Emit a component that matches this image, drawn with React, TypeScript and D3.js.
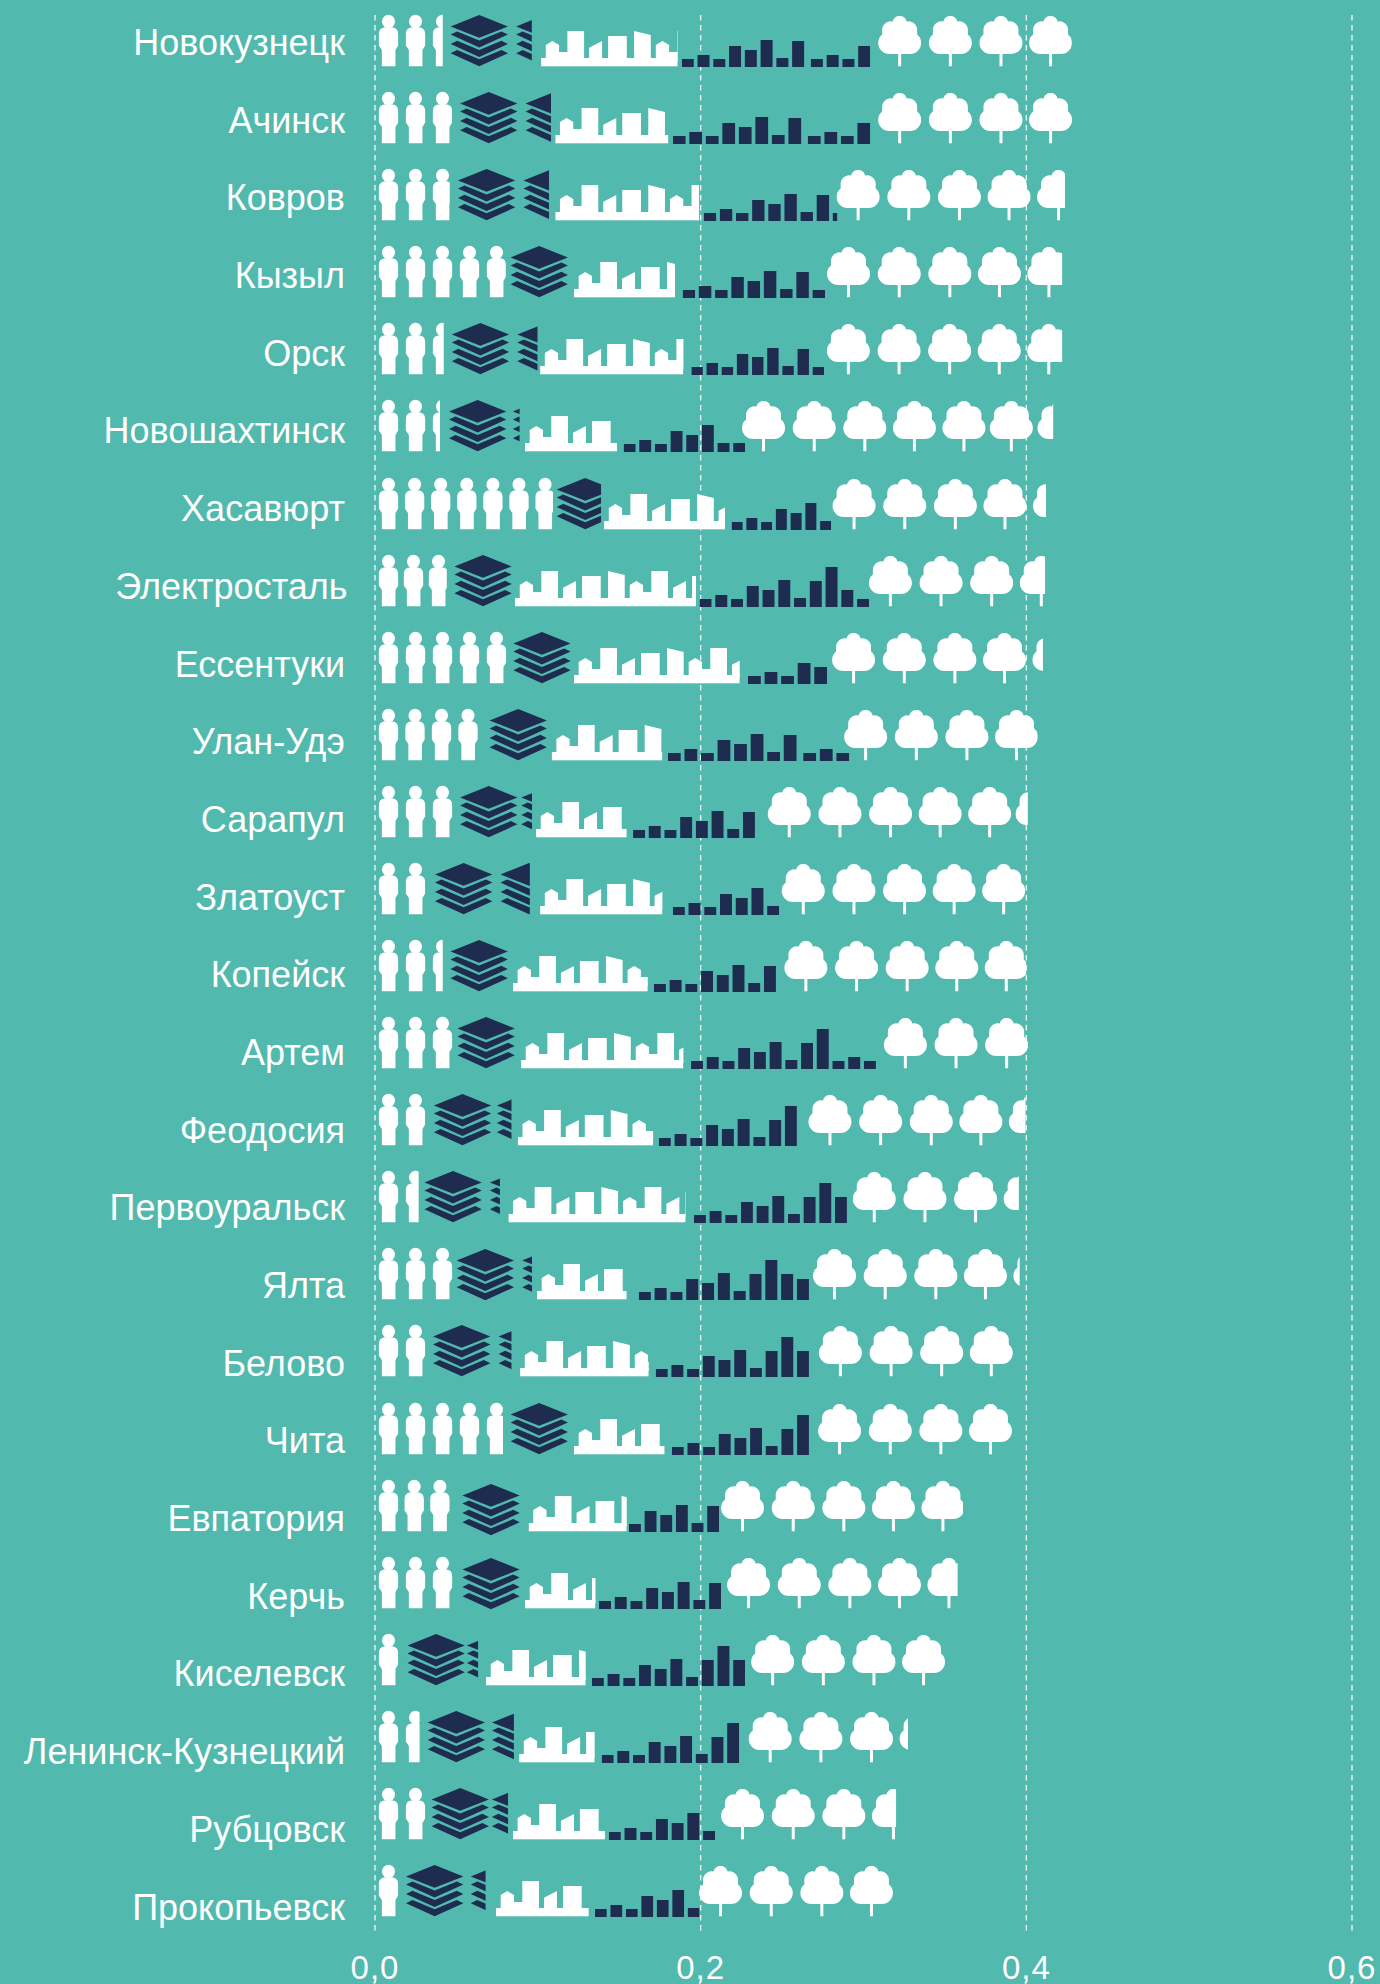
import React, { useEffect, useRef } from 'react';
import * as d3 from 'd3';

const cities = ['Новокузнецк', 'Ачинск', 'Ковров', 'Кызыл', 'Орск', 'Новошахтинск', 'Хасавюрт', 'Электросталь', 'Ессентуки', 'Улан-Удэ', 'Сарапул', 'Златоуст', 'Копейск', 'Артем', 'Феодосия', 'Первоуральск', 'Ялта', 'Белово', 'Чита', 'Евпатория', 'Керчь', 'Киселевск', 'Ленинск-Кузнецкий', 'Рубцовск', 'Прокопьевск'];
const ticks = [0, 0.2, 0.4, 0.6];

// Each band of a row in axis units
const peopleTo = [.0416, .0475, .0459, .0803, .0422, .0399, .1093, .0441, .0808, .0633, .0477, .0310, .0416, .0477, .0310, .0268, .0477, .0310, .0786, .0463, .0479, .0145, .0274, .0310, .0145];
const layersFrom = [.0440, .0498, .0485, .0808, .0447, .0430, .1091, .0463, .0825, .0679, .0498, .0344, .0439, .0482, .0337, .0279, .0477, .0332, .0808, .0512, .0512, .0175, .0299, .0323, .0166];
const layersTo = [.0963, .1081, .1069, .1184, .0998, .0888, .1388, .0844, .1203, .1055, .0964, .0951, .0817, .0860, .0838, .0767, .0964, .0838, .1186, .0891, .0891, .0633, .0853, .0817, .0679];
const skylineFrom = [.1020, .1107, .1107, .1222, .1014, .0921, .1407, .0860, .1222, .1085, .0989, .1014, .0847, .0897, .0877, .0819, .0995, .0891, .1222, .0943, .0921, .0682, .0885, .0847, .0743];
const skylineTo = [.1859, .1802, .1990, .1843, .1894, .1486, .2150, .1971, .2240, .1765, .1546, .1765, .1675, .1894, .1708, .1908, .1546, .1681, .1779, .1546, .1354, .1294, .1349, .1412, .1313];
const columnsFrom = [.1884, .1829, .2019, .1889, .1943, .1527, .2190, .1993, .2291, .1799, .1585, .1829, .1713, .1941, .1743, .1959, .1620, .1724, .1823, .1560, .1376, .1332, .1392, .1436, .1351];
const columnsTo = [.3041, .3041, .2838, .2764, .2758, .2273, .2801, .3034, .2776, .2912, .2333, .2482, .2462, .3076, .2591, .2898, .2665, .2665, .2665, .2113, .2125, .2273, .2236, .2088, .1993];
const treesFrom = [.3067, .3067, .2812, .2753, .2752, .2231, .2787, .3010, .2784, .2858, .2389, .2475, .2491, .3102, .2639, .2911, .2667, .2703, .2698, .2102, .2139, .2287, .2272, .2102, .1967];
const treesTo = [.4279, .4286, .4238, .4220, .4220, .4165, .4121, .4115, .4102, .4069, .4009, .3998, .3999, .4011, .3995, .3954, .3959, .3918, .3915, .3611, .3578, .3501, .3274, .3200, .3181];

// Column heights per row
const columnHeights = [
  [8, 12, 8, 21, 17, 27, 9, 26, 8, 12, 8, 21],
  [8, 12, 8, 21, 17, 27, 9, 26, 8, 12, 8, 21],
  [8, 12, 8, 21, 17, 27, 9, 26, 8],
  [8, 12, 8, 21, 17, 27, 9, 26, 8],
  [8, 12, 8, 21, 18, 27, 9, 26, 8],
  [8, 12, 8, 21, 17, 27, 9, 9],
  [8, 12, 8, 21, 17, 27, 9],
  [8, 12, 8, 21, 17, 27, 9, 26, 40, 17, 8],
  [8, 12, 8, 21, 17],
  [8, 12, 8, 21, 17, 27, 9, 26, 8, 12, 8],
  [8, 12, 8, 21, 17, 27, 9, 26],
  [8, 12, 8, 21, 17, 27, 9],
  [8, 12, 8, 21, 17, 27, 9, 26],
  [8, 12, 8, 21, 17, 27, 9, 26, 40, 8, 12, 8],
  [8, 12, 8, 21, 17, 27, 9, 26, 40],
  [8, 12, 8, 21, 17, 27, 9, 26, 40, 26],
  [8, 12, 8, 21, 17, 27, 9, 26, 40, 26, 21],
  [8, 12, 8, 21, 17, 27, 9, 26, 40, 26],
  [8, 12, 8, 21, 17, 27, 9, 26, 40],
  [8, 21, 17, 27, 9, 26],
  [8, 12, 8, 21, 17, 27, 9, 26],
  [8, 12, 8, 21, 17, 27, 9, 26, 40, 26],
  [8, 12, 8, 21, 17, 27, 9, 26, 40],
  [8, 12, 8, 21, 17, 27, 9],
  [8, 12, 8, 21, 17, 27, 9],
];

const BG = '#51b9ad';
const NAVY = '#1e2c50';
const WHITE = '#ffffff';
const FONT = '"Liberation Sans", Arial, sans-serif';

// icon outlines
const personPath = 'M7 12.2H12.3Q19.3 12.2 19.3 19V30.5L16.6 35V51.3H3V35L0 30.5V19Q0 12.2 7 12.2Z';
const layersPath = 'M28.6 0L57.3 11.4L28.6 22.8L0 11.4Z'
  + [19.6, 29, 38.3].map(y => `M0 ${y}L6.5 ${y - 3.2}L28.6 ${y + 6}L50.8 ${y - 3.2}L57.3 ${y}L28.6 ${y + 13}Z`).join('');
const treePath = 'M14.5 6.5A7.2 7.2 0 0 1 28.5 6.5A8.5 8.5 0 0 1 39 15V19.5A10.5 10.5 0 0 1 43 28A11 11 0 0 1 32 39H23V51.3H20V39H11A11 11 0 0 1 0 28A10.5 10.5 0 0 1 4 19.5V15A8.5 8.5 0 0 1 14.5 6.5Z';
const skylineTile = 'M4.7 46V30L11.3 26L18 30V37H26.3V16H43V46ZM48 46V32.7L61 26V46ZM67 46V21H85.7V46ZM93 46V16L109.7 20V46Z';
const skylineWedge = 'M48 46V32.7L61 26V46Z';

// spacing of the repeated icons
const PERSON_STEP = 27;
const LAYER_STEP = 65.5;
const SKYLINE_STEP = 110;
const COLUMN_GAP = 3.8;
const treeOffsets = [0, 50.7, 101.3, 150.9, 200.4, 247.8, 295.5];
const personStepByRow: Record<number, number> = { 6: 26.1, 7: 25, 9: 26.5, 19: 25.7 };
const layerStepByRow: Record<number, number> = { 5: 63.8, 10: 61.2, 14: 63, 21: 59.4, 22: 64.3, 23: 60.3, 24: 64.7 };
const layerNudge: Record<number, number> = { 16: 1, 19: 4, 20: 1 };
const wedgeRows = new Set([6, 11]);
const seamRows = new Set([0, 1, 9]);
const clippedColumnRows = new Set([2]);

const App = () => {
  const ref = useRef<SVGSVGElement | null>(null);

  useEffect(() => {
    document.body.style.margin = '0';
    const svg = d3.select(ref.current);
    svg.selectAll('*').remove();

    const x = d3.scaleLinear().domain([0, 0.6]).range([375, 1352]);
    const rowY = d3.scalePoint<string>().domain(cities).range([15, 1865]);
    const labelY = d3.scalePoint<string>().domain(cities).range([55, 1919.5]);
    const columnY = d3.scaleLinear().domain([0, 40]).range([0, 40]);

    svg.append('rect').attr('width', 1380).attr('height', 1984).attr('fill', BG);

    // grid
    svg.selectAll('line.grid').data(ticks).enter().append('line')
      .attr('class', 'grid')
      .attr('x1', d => x(d)).attr('x2', d => x(d))
      .attr('y1', 15).attr('y2', 1935)
      .attr('stroke', '#e9f6f4').attr('stroke-width', 1.4).attr('stroke-dasharray', '5.5,4.5');

    // axis labels
    svg.selectAll('text.tick').data(ticks).enter().append('text')
      .attr('class', 'tick')
      .attr('x', d => x(d)).attr('y', 1978.5)
      .attr('text-anchor', 'middle')
      .attr('font-family', FONT).attr('font-size', 33).attr('letter-spacing', 1).attr('fill', WHITE)
      .text(d => d3.format('.1f')(d).replace('.', ','));

    // city labels
    svg.selectAll('text.city').data(cities).enter().append('text')
      .attr('class', 'city')
      .attr('x', d => (d === 'Электросталь' ? 347.5 : 345)).attr('y', d => labelY(d) as number)
      .attr('text-anchor', 'end')
      .attr('font-family', FONT).attr('font-size', 36).attr('fill', WHITE)
      .text(d => d);

    const defs = svg.append('defs');
    const clip = (id: string, from: number, to: number) => {
      defs.append('clipPath').attr('id', id).append('rect')
        .attr('x', from).attr('y', -4).attr('width', Math.max(0, to - from)).attr('height', 62);
      return `url(#${id})`;
    };

    cities.forEach((city, i) => {
      const row = svg.append('g').attr('transform', `translate(0,${Math.round(rowY(city) as number)})`);

      // people
      const step = personStepByRow[i] || PERSON_STEP;
      const people = row.append('g').attr('clip-path', clip(`p${i}`, x(0), x(peopleTo[i])));
      d3.range(Math.ceil((x(peopleTo[i]) - x(0)) / step)).forEach(k => {
        const g = people.append('g').attr('transform', `translate(${x(0) + 3.85 + k * step},0)`);
        g.append('ellipse').attr('cx', 9.65).attr('cy', 6.5).attr('rx', 6.5).attr('ry', 6.7).attr('fill', WHITE);
        g.append('path').attr('d', personPath).attr('fill', WHITE);
      });

      // layers
      const lFrom = x(layersFrom[i]);
      const lStep = layerStepByRow[i] || LAYER_STEP;
      const layers = row.append('g').attr('clip-path', clip(`l${i}`, lFrom, x(layersTo[i])));
      d3.range(Math.ceil((x(layersTo[i]) - lFrom) / lStep)).forEach(k => {
        layers.append('path')
          .attr('transform', `translate(${lFrom + 4 + k * lStep},${layerNudge[i] || 0})`)
          .attr('d', layersPath).attr('fill', NAVY);
      });

      // skyline
      const sFrom = x(skylineFrom[i]);
      const sTo = x(skylineTo[i]);
      const skyline = row.append('g').attr('clip-path', clip(`s${i}`, sFrom, sTo));
      skyline.append('rect').attr('x', sFrom).attr('y', 43).attr('width', sTo - sFrom).attr('height', 8.3).attr('fill', WHITE);
      d3.range(Math.ceil((sTo - sFrom) / SKYLINE_STEP)).forEach(k => {
        const wedgeFirst = k === 1 && wedgeRows.has(i);
        skyline.append('path')
          .attr('transform', `translate(${sFrom + (wedgeFirst ? 66.5 : k * SKYLINE_STEP)},0)`)
          .attr('d', wedgeFirst ? skylineWedge : skylineTile).attr('fill', WHITE);
      });

      // columns
      const cFrom = x(columnsFrom[i]);
      const cTo = x(columnsTo[i]);
      const heights = columnHeights[i];
      const seam = seamRows.has(i) ? 3 : 0;
      const count = clippedColumnRows.has(i) ? heights.length - 0.5 : heights.length;
      const period = (cTo - cFrom + COLUMN_GAP - seam) / count;
      const columns = row.append('g').attr('clip-path', clip(`c${i}`, cFrom, cTo));
      columns.selectAll('rect').data(heights).enter().append('rect')
        .attr('x', (_, k) => cFrom + k * period + (k >= 8 ? seam : 0))
        .attr('y', d => 52 - columnY(d))
        .attr('width', period - COLUMN_GAP)
        .attr('height', d => columnY(d))
        .attr('fill', NAVY);

      // trees
      const tFrom = x(treesFrom[i]);
      const tTo = x(treesTo[i]);
      const trees = row.append('g').attr('clip-path', clip(`t${i}`, tFrom, tTo));
      treeOffsets.filter(o => tFrom + 3.75 + o < tTo).forEach(o => {
        trees.append('path')
          .attr('transform', `translate(${tFrom + 3.75 + o},0)`)
          .attr('d', treePath).attr('fill', WHITE);
      });
    });
  }, []);

  return <svg ref={ref} width={1380} height={1984} style={{ display: 'block' }} />;
};

export default App;
